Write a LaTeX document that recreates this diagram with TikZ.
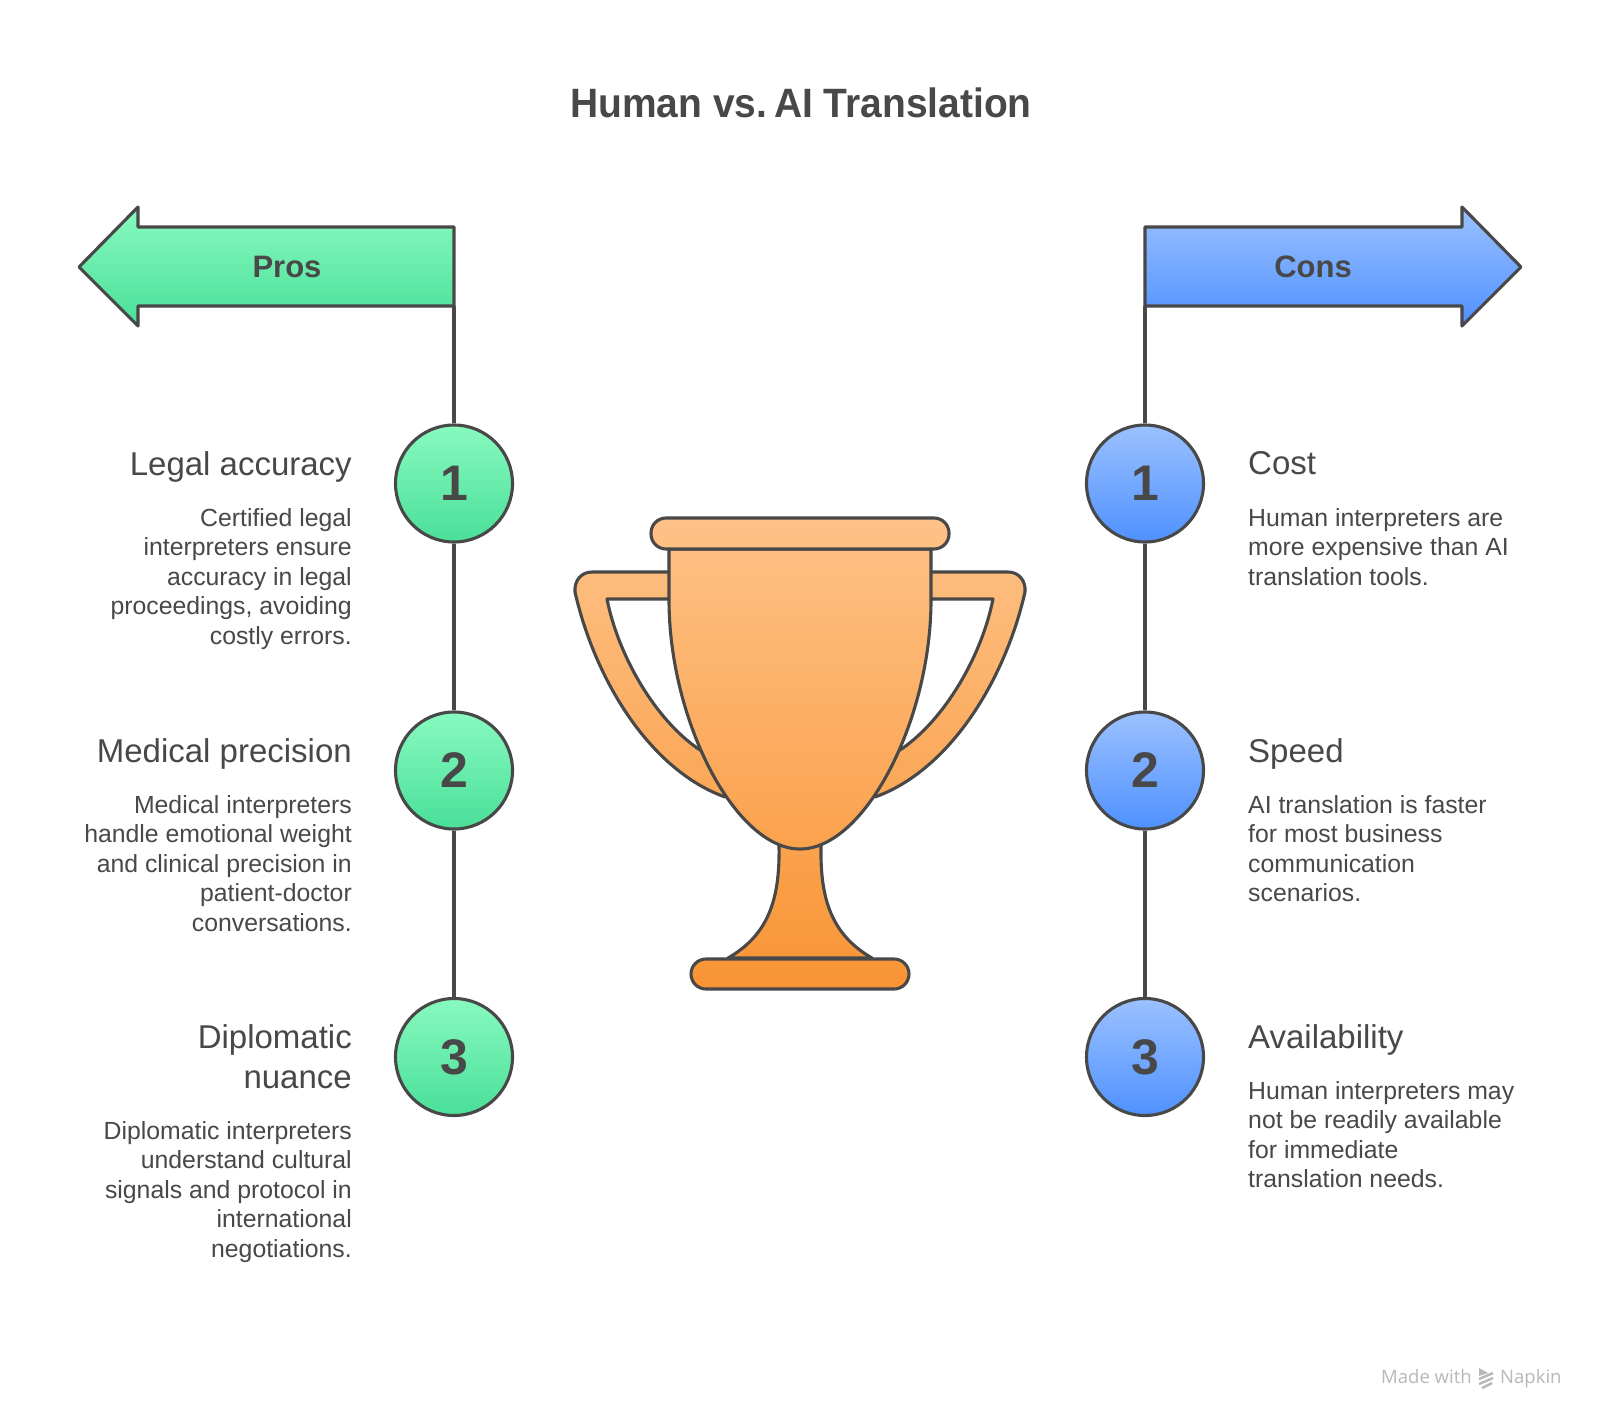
\documentclass[tikz,border=0pt]{standalone}
\usepackage{fontspec}
\setmainfont{Liberation Sans}
\newfontfamily\footfont{Open Sans}
\newfontfamily\titlefont[FakeStretch=0.95]{Liberation Sans}
\definecolor{ink}{HTML}{484848}
\definecolor{grT}{HTML}{88FABF}
\definecolor{grB}{HTML}{4ADF98}
\definecolor{blT}{HTML}{9BC1FF}
\definecolor{blB}{HTML}{4F91FF}
\definecolor{trT}{HTML}{FEC287}
\definecolor{trB}{HTML}{F99434}
\definecolor{foot}{HTML}{B8B8B8}
\newcommand{\fsz}[2]{\fontsize{#1}{#2}\selectfont}
\tikzset{
  outline/.style={draw=ink,line width=3.1pt,line join=round},
  conn/.style={draw=ink,line width=3.1pt},
  greenfill/.style={top color=grT,bottom color=grB},
  bluefill/.style={top color=blT,bottom color=blB},
  numdisc/.style={circle,outline,minimum size=117pt,inner sep=0pt,text=ink,font=\bfseries\fsz{50}{50}},
  headleft/.style={anchor=north east,align=right,text=ink,inner sep=0pt,font=\fsz{33}{40}},
  headright/.style={anchor=north west,align=left,text=ink,inner sep=0pt,font=\fsz{33}{40}},
  descleft/.style={anchor=north east,align=right,text=ink,inner sep=0pt,font=\fsz{24.8}{29.6}},
  descright/.style={anchor=north west,align=left,text=ink,inner sep=0pt,font=\fsz{24.8}{29.6}},
  bannertext/.style={text=ink,inner sep=0pt,font=\bfseries\fsz{31}{31}},
  footertext/.style={text=foot,anchor=base west,inner sep=0pt,font=\footfont\fsz{18.5}{18.5}},
}
\begin{document}
\begin{tikzpicture}[x=1pt,y=-1pt]
\useasboundingbox (0,0) rectangle (1600,1422);
\fill[white] (0,0) rectangle (1600,1422);
% title
\node[text=ink,inner sep=0pt,font=\titlefont\bfseries\fsz{41}{41}] (title) at (801,103) {Human vs.\kern-4pt\ AI Translation};
% banners
\shadedraw[greenfill,outline] (454,227) -- (138,227) -- (138,207) -- (79,267) -- (138,326) -- (138,306) -- (454,306) -- cycle;
\shadedraw[bluefill,outline] (1145,227) -- (1462,227) -- (1462,207) -- (1521,267) -- (1462,326) -- (1462,306) -- (1145,306) -- cycle;
\coordinate (prosfoot) at (454,306);
\coordinate (consfoot) at (1145,306);
\node[bannertext] (pros) at (287,267) {Pros};
\node[bannertext] (cons) at (1313,267) {Cons};
% connectors
\node[numdisc,greenfill] (p1) at (454,483.5) {1};
\node[numdisc,greenfill] (p2) at (454,770.5) {2};
\node[numdisc,greenfill] (p3) at (454,1057) {3};
\node[numdisc,bluefill] (c1) at (1145,483.5) {1};
\node[numdisc,bluefill] (c2) at (1145,770.5) {2};
\node[numdisc,bluefill] (c3) at (1145,1057) {3};
\draw[conn] (prosfoot) -- (p1);
\draw[conn] (p1) -- (p2);
\draw[conn] (p2) -- (p3);
\draw[conn] (consfoot) -- (c1);
\draw[conn] (c1) -- (c2);
\draw[conn] (c2) -- (c3);
% left texts
\node[headleft] (h1) at (352,451) {Legal accuracy};
\node[descleft] (d1) at (352,508) {Certified legal\\interpreters ensure\\accuracy in legal\\proceedings, avoiding\\costly errors.};
\node[headleft] (h2) at (352,738) {Medical precision};
\node[descleft] (d2) at (352,795) {Medical interpreters\\handle emotional weight\\and clinical precision in\\patient-doctor\\conversations.};
\node[headleft] (h3) at (352,1024) {Diplomatic\\nuance};
\node[descleft] (d3) at (352,1121) {Diplomatic interpreters\\understand cultural\\signals and protocol in\\international\\negotiations.};
% right texts
\node[headright] (h4) at (1248,451) {Cost};
\node[descright] (d4) at (1248,508) {Human interpreters are\\more expensive than AI\\translation tools.};
\node[headright] (h5) at (1248,738) {Speed};
\node[descright] (d5) at (1248,795) {AI translation is faster\\for most business\\communication\\scenarios.};
\node[headright] (h6) at (1248,1024) {Availability};
\node[descright] (d6) at (1248,1081) {Human interpreters may\\not be readily available\\for immediate\\translation needs.};
% trophy handles
\foreach \mir/\sh in {1/0,-1/1600}{
\begin{scope}[xshift=\sh pt,xscale=\mir]
\shadedraw[outline,top color=trB!11!trT,bottom color=trB!59!trT]
  (680,572) -- (592,572) .. controls (581,572) and (574,581) .. (575,592)
  .. controls (595,680) and (650,770) .. (725,797) -- (760,760) -- (700,750)
  .. controls (655,720) and (618,655) .. (607,599) -- (680,599) -- cycle;
\end{scope}}
% stem
\shadedraw[outline,top color=trB!69!trT,bottom color=trB!93!trT]
  (779,840) -- (779,846) .. controls (780,900) and (768,935) .. (728,958)
  -- (872,958) .. controls (832,935) and (820,900) .. (821,846) -- (821,840) -- cycle;
% cup
\shadedraw[outline,top color=trB!7!trT,bottom color=trB!70!trT]
  (669,549) -- (669,600) .. controls (669,720) and (735,849) .. (800,849)
  .. controls (865,849) and (931,720) .. (931,600) -- (931,549) -- cycle;
% rim and foot
\shadedraw[outline,rounded corners=15pt,top color=trT,bottom color=trB!7!trT] (651,518) rectangle (949,549);
\shadedraw[outline,rounded corners=15pt,top color=trB!93!trT,bottom color=trB] (691,959) rectangle (909,989);
% footer
\node[footertext] (made) at (1381,1383.5) {Made with};
\node[footertext] (napkin) at (1500,1383.5) {Napkin};
\fill[foot] (1479,1368) -- (1488,1373) -- (1479,1376) -- cycle;
\draw[foot,line width=2.4pt] (1479,1379) -- (1493,1373) (1479,1384) -- (1493,1378) (1482,1388) -- (1492,1383);
\end{tikzpicture}
\end{document}
